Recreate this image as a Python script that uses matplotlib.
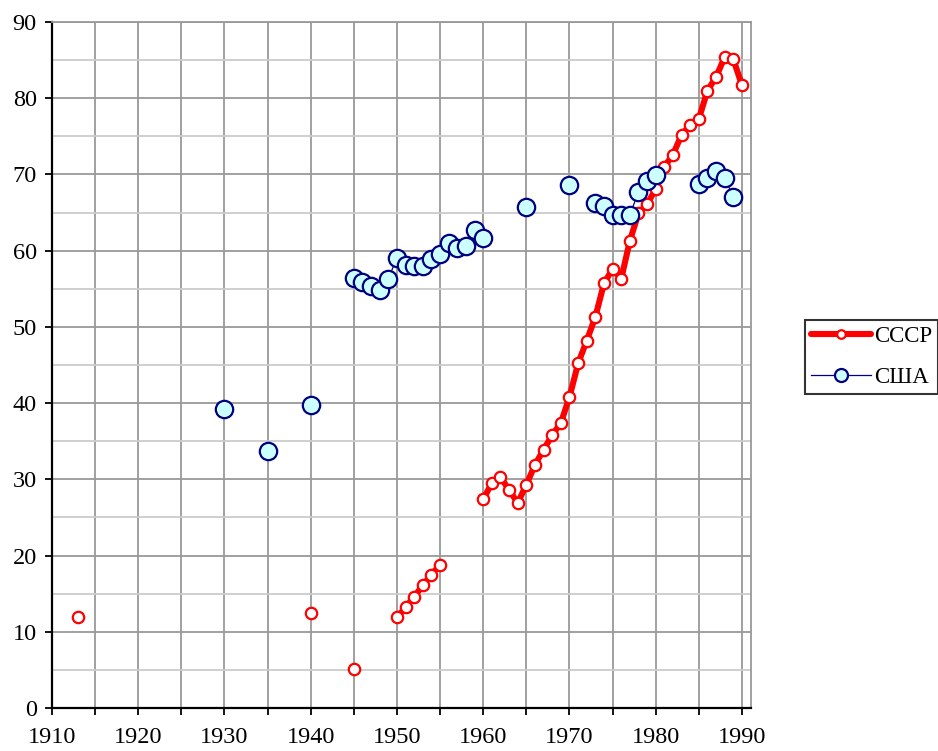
import numpy as np
import matplotlib
matplotlib.use("Agg")
import matplotlib.pyplot as plt
from matplotlib.ticker import MultipleLocator

plt.rcParams["font.family"] = ["Liberation Serif", "DejaVu Serif"]

# ====== Data ======
nan = np.nan

ussr_years = [1913, 1914, 1940, 1941, 1944, 1945, 1946,
              1950, 1951, 1952, 1953, 1954, 1955, 1956,
              1960, 1961, 1962, 1963, 1964, 1965, 1966, 1967, 1968, 1969,
              1970, 1971, 1972, 1973, 1974, 1975, 1976, 1977, 1978, 1979,
              1980, 1981, 1982, 1983, 1984, 1985, 1986, 1987, 1988, 1989, 1990]
ussr_values = [12.0, nan, 12.5, nan, nan, 5.1, nan,
               11.9, 13.2, 14.6, 16.1, 17.5, 18.8, nan,
               27.4, 29.5, 30.3, 28.6, 26.9, 29.3, 31.9, 33.9, 35.8, 37.4,
               40.8, 45.2, 48.2, 51.3, 55.7, 57.6, 56.3, 61.3, 64.9, 66.1,
               68.1, 71.0, 72.6, 75.2, 76.5, 77.3, 81.0, 82.8, 85.4, 85.1, 81.7]

usa_years = [1930, 1931, 1935, 1936, 1940, 1941,
             1945, 1946, 1947, 1948, 1949, 1950, 1951, 1952, 1953, 1954,
             1955, 1956, 1957, 1958, 1959, 1960, 1961,
             1965, 1966, 1970, 1971,
             1973, 1974, 1975, 1976, 1977, 1978, 1979, 1980, 1981,
             1985, 1986, 1987, 1988, 1989]
usa_values = [39.2, nan, 33.7, nan, 39.8, nan,
              56.4, 55.9, 55.4, 54.9, 56.3, 59.1, 58.1, 58.0, 58.0, 58.9,
              59.6, 61.0, 60.4, 60.6, 62.7, 61.7, nan,
              65.7, nan, 68.6, nan,
              66.3, 65.8, 64.7, 64.7, 64.7, 67.7, 69.1, 69.9, nan,
              68.7, 69.5, 70.5, 69.5, 67.1]

# ====== Figure ======
fig = plt.figure(figsize=(9.38, 7.51), dpi=100)
ax = fig.add_axes([52 / 938, 43 / 751, (750.6 - 52) / 938, (708 - 22) / 751])

ax.plot(ussr_years, ussr_values, color="#ff0000", lw=4.4,
        solid_joinstyle="round", solid_capstyle="round",
        marker="o", ms=8.2, mfc="white", mec="#ff0000", mew=1.6,
        label="СССР", zorder=3)
ax.plot(usa_years, usa_values, color="#000080", lw=0.9,
        marker="o", ms=12.5, mfc="#ccffff", mec="#000080", mew=1.6,
        label="США", zorder=4)

ax.set_xlim(1910, 1991)
ax.set_ylim(0, 90)

ax.yaxis.set_major_locator(MultipleLocator(10))
ax.yaxis.set_minor_locator(MultipleLocator(5))
ax.set_xticks(range(1910, 1991, 5))
ax.set_xticklabels([str(y) if y % 10 == 0 else "" for y in range(1910, 1991, 5)])

ax.grid(True, which="major", color="#999999", lw=1.3)
ax.grid(True, which="minor", axis="y", color="#cccccc", lw=1.3)
ax.set_axisbelow(True)

ax.tick_params(axis="both", which="major", direction="out", length=5,
               width=1.3, color="black", labelsize=17.5, pad=6)
ax.tick_params(axis="y", which="minor", length=0)
ax.tick_params(axis="x", pad=9)

for side in ("left", "bottom"):
    ax.spines[side].set_color("black")
    ax.spines[side].set_linewidth(1.6)
for side in ("top", "right"):
    ax.spines[side].set_color("#999999")
    ax.spines[side].set_linewidth(1.3)

leg = ax.legend(loc="center right", bbox_to_anchor=(938 / 938, 1 - 357 / 751),
                bbox_transform=fig.transFigure, fontsize=16.5, frameon=True,
                fancybox=False, edgecolor="black", handlelength=2.6,
                handletextpad=0.15, borderpad=0.25, labelspacing=0.9,
                borderaxespad=0, markerscale=0.75)
leg.get_frame().set_linewidth(1.5)

fig.savefig("out.png", dpi=100)
